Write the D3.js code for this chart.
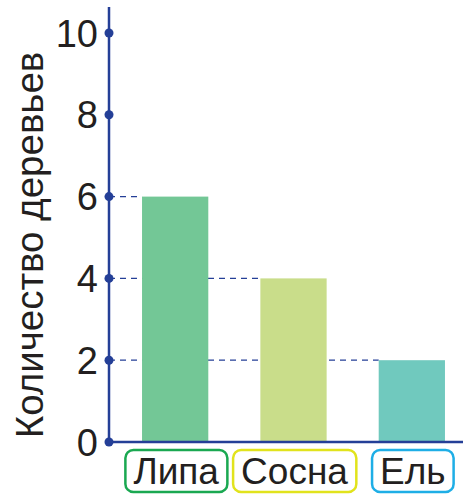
<!DOCTYPE html>
<html><head><meta charset="utf-8">
<script src="https://cdn.jsdelivr.net/npm/d3@7"></script>
<style>body{margin:0;background:#fff}svg{display:block}text{font-family:"Liberation Sans",Arial,sans-serif;fill:#231f20}</style>
</head><body>
<svg id="c" width="465" height="494"></svg>
<script>
const categories = ["Липа", "Сосна", "Ель"];
const values = [6, 4, 2];
const yTicks = [0, 2, 4, 6, 8, 10];
const yTitle = "Количество деревьев";
const barColors = ["#73c796", "#c9dd8a", "#70c9be"];
const boxColors = ["#1aa851", "#e1e31c", "#1eaee6"];

const svg = d3.select("#c");
const axisColor = "#243f97";
const x0 = 109, yBase = 442;
const y = d3.scaleLinear().domain([0, 10]).range([yBase, 33]);
const x = d3.scaleBand().domain(categories).range([116, 471]).paddingInner(0.44).paddingOuter(0.22);

// dashed guide lines
values.forEach((v, i) => {
  svg.append("line").attr("x1", x0).attr("x2", x(categories[i]))
    .attr("y1", y(v)).attr("y2", y(v))
    .attr("stroke", axisColor).attr("stroke-width", 1.3).attr("stroke-dasharray", "6,5");
});

// bars
svg.selectAll("rect.bar").data(values).join("rect").attr("class", "bar")
  .attr("x", (d, i) => x(categories[i])).attr("width", x.bandwidth())
  .attr("y", d => y(d)).attr("height", d => yBase - y(d))
  .attr("fill", (d, i) => barColors[i]);

// axes
svg.append("line").attr("x1", x0).attr("x2", x0).attr("y1", 7).attr("y2", yBase)
  .attr("stroke", axisColor).attr("stroke-width", 2.5);
svg.append("line").attr("x1", x0).attr("x2", 463).attr("y1", yBase).attr("y2", yBase)
  .attr("stroke", axisColor).attr("stroke-width", 2.5);

svg.selectAll("circle.tick").data(yTicks).join("circle").attr("class", "tick")
  .attr("cx", x0).attr("cy", d => y(d)).attr("r", 4.5).attr("fill", axisColor);

svg.selectAll("text.yl").data(yTicks).join("text").attr("class", "yl")
  .attr("x", 98).attr("y", d => y(d)).attr("dy", "0.36em")
  .attr("text-anchor", "end").attr("font-size", 38).text(d => d);

svg.append("text").attr("transform", "translate(43,245) rotate(-90)")
  .attr("text-anchor", "middle").attr("font-size", 38.5).text(yTitle);

// category labels with boxes
categories.forEach((c, i) => {
  const cx = x(c) + x.bandwidth() / 2 + 1;
  const t = svg.append("text").attr("x", cx).attr("y", 484)
    .attr("text-anchor", "middle").attr("font-size", 37).text(c);
  const bb = t.node().getBBox();
  svg.insert("rect", "text").attr("x", bb.x - 8).attr("y", 450)
    .attr("width", bb.width + 16).attr("height", 42).attr("rx", 8)
    .attr("fill", "none").attr("stroke", boxColors[i]).attr("stroke-width", 2.5);
});
</script>
</body></html>
